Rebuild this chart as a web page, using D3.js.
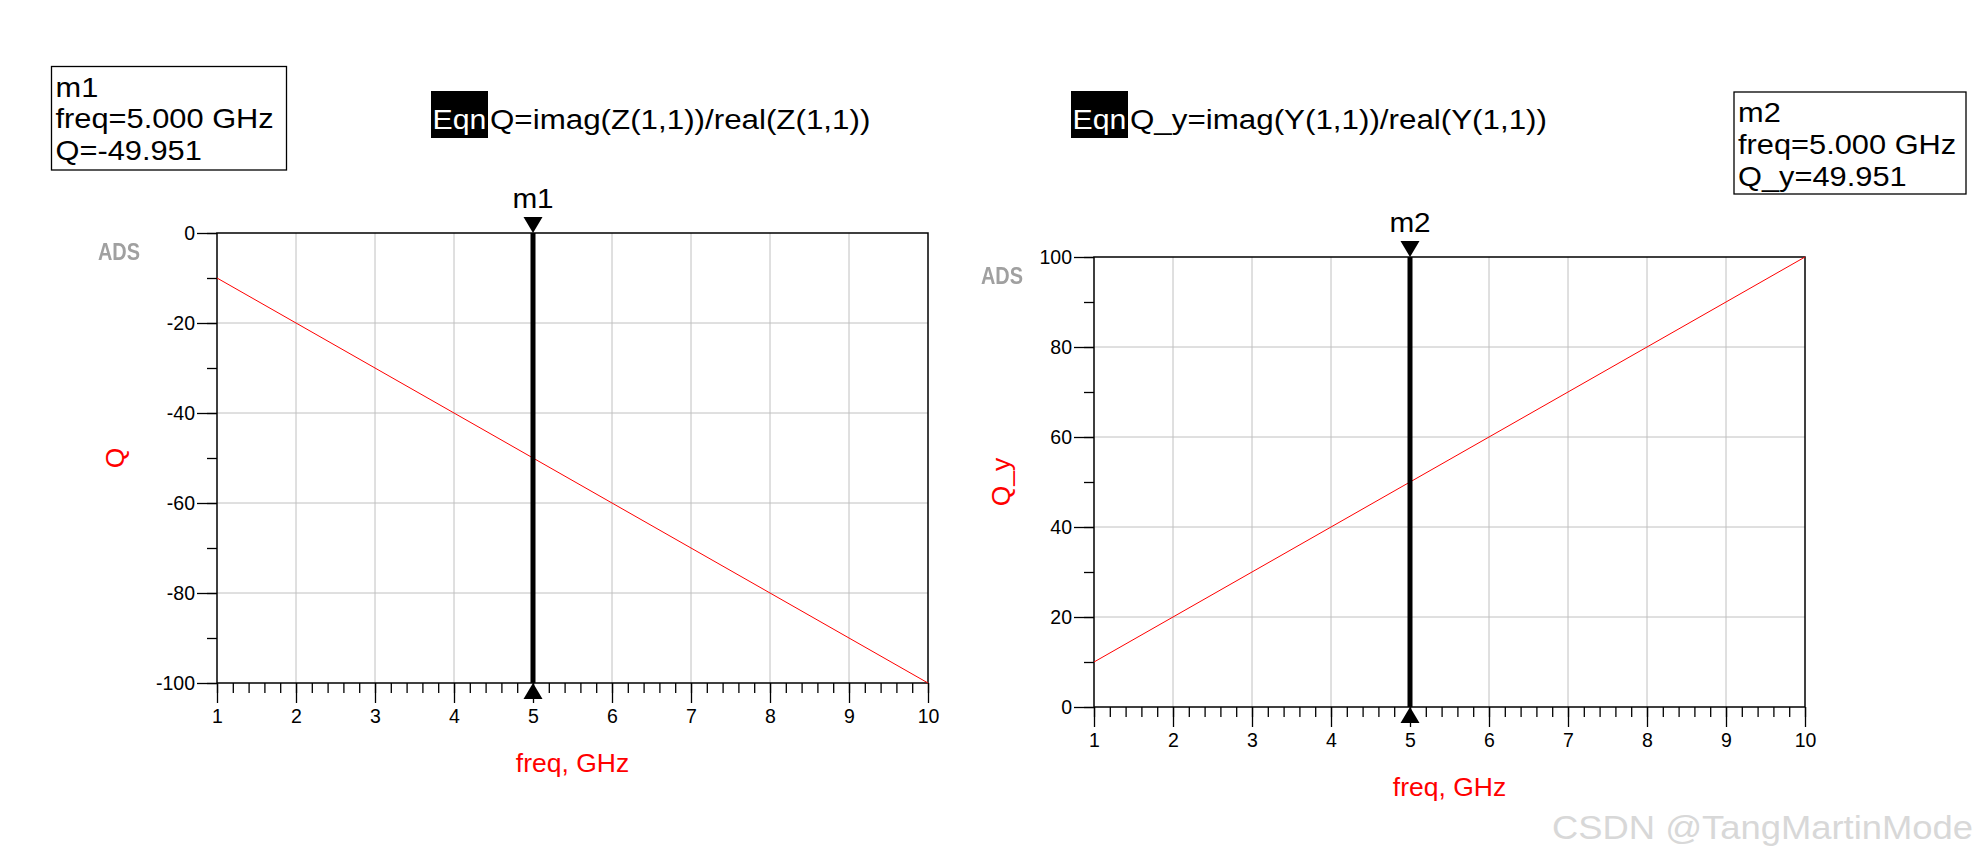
<!DOCTYPE html>
<meta charset="utf-8">
<title>ADS Q plots</title>
<style>
  body { margin: 0; background: #fff; }
  text { font-family: "Liberation Sans", Arial, sans-serif; }
</style>
<body>
<script src="https://d3js.org/d3.v7.min.js"></script>
<script>

// data
var freq = [1, 2, 3, 4, 5, 6, 7, 8, 9, 10];
var qZ   = [-10, -20, -30, -40, -50, -60, -70, -80, -90, -100];
var qY   = [10, 20, 30, 40, 50, 60, 70, 80, 90, 100];
var xTicks  = [1, 2, 3, 4, 5, 6, 7, 8, 9, 10];
var yTicksZ = [0, -20, -40, -60, -80, -100];
var yTicksY = [0, 20, 40, 60, 80, 100];
var markerFreq = 5;
var markerZ = ["m1", "freq=5.000 GHz", "Q=-49.951"];
var markerY = ["m2", "freq=5.000 GHz", "Q_y=49.951"];

var width = 1979, height = 865;

var svg = d3.select("body").append("svg")
  .attr("width", width)
  .attr("height", height);

var defs = svg.append("defs");
defs.append("filter").attr("id", "soft")
  .append("feGaussianBlur").attr("stdDeviation", 0.7);

// plain hyphen minus, like ADS prints it
var fmt = d => String(d);

function drawPlot(o) {
  var x = d3.scaleLinear().domain([1, 10]).range([o.left, o.left + 711]);
  var y = d3.scaleLinear().domain(o.yDomain).range([o.top + 450, o.top]);
  var g = svg.append("g");

  // grid
  g.append("g").selectAll("line").data(xTicks.slice(1, -1)).join("line")
    .attr("x1", d => x(d)).attr("x2", d => x(d))
    .attr("y1", o.top).attr("y2", o.top + 450)
    .attr("stroke", "#c0c0c0").attr("stroke-width", 1);
  g.append("g").selectAll("line").data(o.yTicks.slice(1, -1)).join("line")
    .attr("x1", o.left).attr("x2", o.left + 711)
    .attr("y1", d => y(d)).attr("y2", d => y(d))
    .attr("stroke", "#c0c0c0").attr("stroke-width", 1);

  // minor ticks
  g.append("g")
    .attr("transform", "translate(0," + (o.top + 450) + ")")
    .call(d3.axisBottom(x).tickValues(d3.range(1, 10.001, 0.2)).tickSize(10).tickSizeOuter(0).tickFormat(""))
    .call(a => a.select(".domain").remove());
  g.append("g")
    .attr("transform", "translate(" + o.left + ",0)")
    .call(d3.axisLeft(y).tickValues(d3.range(o.yDomain[0], o.yDomain[1] + 0.01, 10)).tickSize(10).tickSizeOuter(0).tickFormat(""))
    .call(a => a.select(".domain").remove());

  // major ticks + labels
  g.append("g")
    .attr("transform", "translate(0," + (o.top + 450) + ")")
    .call(d3.axisBottom(x).tickValues(xTicks).tickSize(20).tickPadding(6).tickSizeOuter(0).tickFormat(fmt))
    .call(a => a.select(".domain").remove())
    .call(a => a.selectAll("text").attr("font-size", 19.5).attr("font-family", "Liberation Sans, Arial").attr("fill", "#000"));
  g.append("g")
    .attr("transform", "translate(" + o.left + ",0)")
    .call(d3.axisLeft(y).tickValues(o.yTicks).tickSize(20).tickPadding(2).tickSizeOuter(0).tickFormat(fmt))
    .call(a => a.select(".domain").remove())
    .call(a => a.selectAll("text").attr("font-size", 19.5).attr("font-family", "Liberation Sans, Arial").attr("fill", "#000"));
  g.selectAll(".tick line").attr("stroke", "#000").attr("stroke-width", 1.3);

  // frame
  g.append("rect")
    .attr("x", o.left).attr("y", o.top).attr("width", 711).attr("height", 450)
    .attr("fill", "none").attr("stroke", "#000").attr("stroke-width", 1.5);

  // trace
  g.append("path")
    .datum(freq.map((f, i) => [f, o.values[i]]))
    .attr("fill", "none").attr("stroke", "#ff0000").attr("stroke-width", 1)
    .attr("d", d3.line().x(d => x(d[0])).y(d => y(d[1])));

  // marker
  var mx = x(markerFreq);
  g.append("line")
    .attr("x1", mx).attr("x2", mx).attr("y1", o.top).attr("y2", o.top + 450)
    .attr("stroke", "#000").attr("stroke-width", 5);
  g.append("path")
    .attr("d", "M" + (mx - 9.5) + "," + (o.top - 16) + "L" + (mx + 9.5) + "," + (o.top - 16) + "L" + mx + "," + o.top + "Z")
    .attr("fill", "#000");
  g.append("path")
    .attr("d", "M" + (mx - 9.5) + "," + (o.top + 466) + "L" + (mx + 9.5) + "," + (o.top + 466) + "L" + mx + "," + (o.top + 450) + "Z")
    .attr("fill", "#000");
  g.append("text")
    .attr("transform", "translate(" + mx + "," + (o.top - 25) + ") scale(1.1,1)")
    .attr("text-anchor", "middle").attr("font-size", 27)
    .text(o.marker);

  // axis labels
  g.append("text")
    .attr("x", o.left + 355.5).attr("y", o.top + 450 + 89)
    .attr("text-anchor", "middle").attr("font-size", 26.5).attr("fill", "#ff0000")
    .text("freq, GHz");
  g.append("text")
    .attr("transform", "translate(" + o.yLabelX + "," + (o.top + 225) + ") rotate(-90)")
    .attr("text-anchor", "middle").attr("font-size", 26.5).attr("fill", "#ff0000")
    .text(o.yLabel);

  // ADS watermark
  g.append("text")
    .attr("x", o.adsX - 21).attr("y", o.top + 27)
    .attr("font-size", 24).attr("font-weight", "bold")
    .attr("textLength", 42).attr("lengthAdjust", "spacingAndGlyphs")
    .attr("fill", "#a0a0a0").attr("filter", "url(#soft)")
    .text("ADS");
}

drawPlot({ left: 217, top: 233, yDomain: [-100, 0], yTicks: yTicksZ, values: qZ,
           marker: "m1", yLabel: "Q", yLabelX: 124, adsX: 119 });
drawPlot({ left: 1094, top: 257, yDomain: [0, 100], yTicks: yTicksY, values: qY,
           marker: "m2", yLabel: "Q_y", yLabelX: 1010, adsX: 1002 });

// marker readout boxes (ADS text is wide for its height, so stretch it a bit)
function readout(x0, y0, w, h, lines) {
  svg.append("rect").attr("x", x0).attr("y", y0).attr("width", w).attr("height", h)
    .attr("fill", "#fff").attr("stroke", "#000").attr("stroke-width", 1.3);
  svg.append("g").selectAll("text").data(lines).join("text")
    .attr("transform", (d, i) => "translate(" + (x0 + 4) + "," + (y0 + 30 + i * 31.8) + ") scale(1.12,1)")
    .attr("font-size", 27.5)
    .text(d => d);
}
readout(51.5, 66.5, 235, 103.5, markerZ);
readout(1734, 92, 232, 102, markerY);

// equation labels
function eqn(x0, txt) {
  svg.append("rect").attr("x", x0).attr("y", 91).attr("width", 57).attr("height", 47).attr("fill", "#000");
  svg.append("text").attr("transform", "translate(" + (x0 + 28.5) + ",129) scale(1.1,1)")
    .attr("text-anchor", "middle")
    .attr("font-size", 27.5).attr("fill", "#fff").text("Eqn");
  svg.append("text").attr("transform", "translate(" + (x0 + 59) + ",129) scale(1.14,1)")
    .attr("font-size", 27.5).attr("fill", "#000").text(txt);
}
eqn(431, "Q=imag(Z(1,1))/real(Z(1,1))");
eqn(1071, "Q_y=imag(Y(1,1))/real(Y(1,1))");

// page watermark
svg.append("text")
  .attr("x", 1552).attr("y", 839)
  .attr("font-size", 33).attr("fill", "#d8d8d8")
  .attr("textLength", 421).attr("lengthAdjust", "spacingAndGlyphs")
  .text("CSDN @TangMartinMode");

</script>
</body>
